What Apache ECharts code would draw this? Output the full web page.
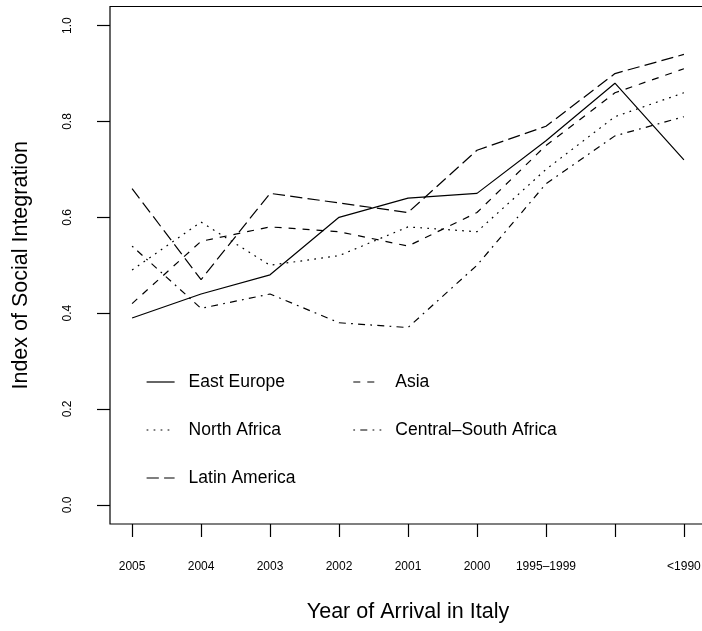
<!DOCTYPE html>
<html>
<head>
<meta charset="utf-8">
<script src="https://cdn.jsdelivr.net/npm/echarts@6/dist/echarts.min.js"></script>
<style>html,body{margin:0;padding:0;background:#fff;}#c{width:702px;height:631px;}</style>
</head>
<body>
<div id="c"></div>
<script>
const categories = ['2005','2004','2003','2002','2001','2000','1995–1999','1990–1994','<1990'];
const tickLabels = ['2005','2004','2003','2002','2001','2000','1995–1999','','<1990'];
const yTicks = [0, 0.2, 0.4, 0.6, 0.8, 1.0];
const eastEurope = [0.39, 0.44, 0.48, 0.60, 0.64, 0.65, 0.76, 0.88, 0.72];
const asia = [0.42, 0.55, 0.58, 0.57, 0.54, 0.61, 0.75, 0.86, 0.91];
const northAfrica = [0.49, 0.59, 0.50, 0.52, 0.58, 0.57, 0.70, 0.81, 0.86];
const centralSouthAfrica = [0.54, 0.41, 0.44, 0.38, 0.37, 0.50, 0.67, 0.77, 0.81];
const latinAmerica = [0.66, 0.47, 0.65, 0.63, 0.61, 0.74, 0.79, 0.90, 0.94];

const FONT = 'Liberation Sans, Arial, Helvetica, sans-serif';
const toXY = arr => arr.map((v, i) => [i, v]);
function mk(name, arr, dash) {
  return {
    name: name, type: 'line', data: toXY(arr), symbol: 'none', silent: true,
    lineStyle: { color: '#000', width: 1.2, type: dash, cap: 'butt' },
    itemStyle: { color: '#000' }
  };
}
const legendCommon = {
  orient: 'vertical', top: 373, padding: 0, itemWidth: 28, itemHeight: 20, itemGap: 30,
  itemStyle: { opacity: 0 },
  lineStyle: { width: 1.2 },
  textStyle: { fontSize: 17.5, color: '#000', fontFamily: FONT, padding: [0, 0, 0, 9] },
  selectedMode: false
};
const chart = echarts.init(document.getElementById('c'), null, { renderer: 'canvas' });
chart.setOption({
  animation: false,
  backgroundColor: '#fff',
  textStyle: { fontFamily: FONT },
  grid: { left: 110, top: 6.5, width: 596, height: 517.5, show: true, borderColor: '#000', borderWidth: 1.2,
    containLabel: false, outerBoundsMode: 'none' },
  xAxis: {
    type: 'value', min: -0.32, max: 8.32,
    axisLine: { show: false, onZero: false },
    splitLine: { show: false },
    axisTick: { show: true, inside: false, length: 13, lineStyle: { color: '#000', width: 1.2 }, customValues: categories.map((c, i) => i) },
    axisLabel: { show: true, margin: 37, fontSize: 12, color: '#000', fontFamily: FONT,
      customValues: categories.map((c, i) => i),
      formatter: v => tickLabels[Math.round(v)] },
    name: 'Year of Arrival in Italy', nameLocation: 'middle', nameGap: 77,
    nameTextStyle: { fontSize: 21.5, color: '#000', fontFamily: FONT }
  },
  yAxis: {
    type: 'value', min: -0.04, max: 1.04,
    axisLine: { show: false, onZero: false },
    splitLine: { show: false },
    axisTick: { show: true, inside: false, length: 13, lineStyle: { color: '#000', width: 1.2 }, customValues: yTicks },
    axisLabel: { show: true, rotate: 90, margin: 36, fontSize: 12, color: '#000', fontFamily: FONT,
      customValues: yTicks, formatter: v => v.toFixed(1) },
    name: 'Index of Social Integration', nameLocation: 'middle', nameGap: 78, nameRotate: 90,
    nameTextStyle: { fontSize: 21.5, color: '#000', fontFamily: FONT }
  },
  legend: [
    Object.assign({}, legendCommon, { left: 146, data: ['East Europe', 'North Africa', 'Latin America'] }),
    Object.assign({}, legendCommon, { left: 352.7, data: ['Asia', 'Central–South Africa'] })
  ],
  series: [
    mk('East Europe', eastEurope, 'solid'),
    mk('Asia', asia, [7, 7]),
    mk('North Africa', northAfrica, [1.75, 5.25]),
    mk('Central–South Africa', centralSouthAfrica, [1.75, 5.25, 7, 5.25]),
    mk('Latin America', latinAmerica, [12.25, 5.25])
  ]
});
</script>
</body>
</html>
